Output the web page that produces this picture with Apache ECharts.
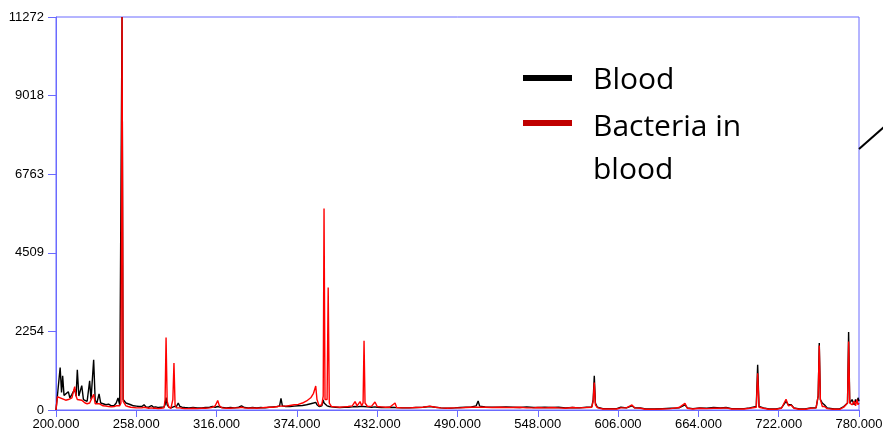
<!DOCTYPE html>
<html>
<head>
<meta charset="utf-8">
<script src="https://cdn.jsdelivr.net/npm/echarts@6/dist/echarts.min.js"></script>
<style>
html,body{margin:0;padding:0;background:#fff;}
#chart{width:883px;height:436px;}
</style>
</head>
<body>
<div id="chart"></div>
<script>
// x positions shared by both spectra (10 per line)
const xs = [
  200,201,202,203,204,204.8,205.8,207,208.9,210,
  211.5,213.5,214.5,215.4,216.5,218.6,219.8,221,222.5,224.3,
  225.3,227.2,228.3,229.5,231.1,232.3,234,236,238,240,
  242,243.5,244.8,246,246.9,247.7,248.5,249.4,250.5,252,
  254,256,258,260,262,263.6,265,267,269,270.5,
  272,274,276,278,278.8,279.5,280.3,281.5,283,284.4,
  285.2,286,287,288.3,289.5,291,293,296,299,302,
  305,308,311,313,315,316.8,318,320,323,326,
  329,332,334,336,339,342,345,348,351,354,
  357,360,361.5,362.5,363.5,366,369,372,375,378,
  381,384,386,387.6,388.5,390,392,393,393.6,394.3,
  395.8,396.6,397.4,399,402,405,408,411,414,416,
  417.5,419.6,420.8,421.8,422.5,423.2,425,428,430.4,432,
  435,438,441,444.9,446,450,455,460,465,470,
  474,478,483,488,492,496,500,503.5,504.9,506,
  510,515,520,525,530,535,540,545,548,553,
  558,563,568,573,578,583,587,588,588.8,589.6,
  591,595,600,605,608,612,616,618,622,626,
  632,638,644,650,654.3,656,660,665,670,675,
  680,684,688,692,697,701,705.8,706.8,707.8,711,
  715,720,724,727.3,729,731,733,737,741,745,
  749,750.5,751.3,752.1,753.5,755,757,762,766,769,
  771.7,772.5,773.3,775,776.5,777.5,778.5,779.3,780];
const bloodY = [
  0,400,420,1217,500,980,420,380,525,350,
  450,600,400,1150,400,700,300,320,250,834,
  300,1438,280,200,460,200,180,150,170,120,
  130,200,345,150,200,11272,300,345,200,180,
  150,120,110,100,100,150,90,80,130,80,
  90,70,80,90,150,354,150,80,60,80,
  100,90,100,200,100,80,70,60,70,60,
  60,70,80,100,80,100,80,70,60,70,
  60,80,120,70,60,70,60,70,60,80,
  90,100,120,335,120,100,100,110,120,130,
  150,180,200,220,150,100,120,290,200,150,
  120,110,100,90,80,70,80,80,90,100,
  90,100,90,100,120,100,90,80,90,80,
  70,70,80,70,60,60,60,70,80,100,
  80,60,50,60,70,80,90,120,260,110,
  90,80,80,90,80,70,90,70,70,80,
  70,80,60,70,60,80,90,300,978,200,
  80,40,40,40,80,60,120,60,60,30,
  30,40,50,60,150,60,40,60,50,70,
  60,70,40,40,40,60,100,1294,100,60,
  30,30,60,250,150,150,60,30,30,60,
  60,400,1918,300,200,150,60,30,30,100,
  200,2234,200,300,150,300,200,350,250];
const bacteriaY = [
  0,380,360,350,330,320,300,280,300,260,
  350,670,400,300,250,280,230,200,180,200,
  170,450,180,150,180,130,120,110,100,90,
  100,120,150,120,200,11272,250,200,120,100,
  80,70,60,60,60,80,60,50,60,50,
  50,40,50,60,300,2080,250,80,50,300,
  1350,150,60,80,60,50,40,40,50,40,
  50,50,60,80,120,270,120,60,50,50,
  60,60,80,60,50,60,50,60,70,80,
  80,100,110,130,110,110,130,150,160,200,
  260,350,480,690,300,120,150,400,5780,300,
  300,3510,200,100,90,80,90,100,120,240,
  120,240,120,200,1985,200,100,110,230,100,
  90,80,80,200,70,60,60,70,80,110,
  80,60,50,60,60,70,80,80,90,80,
  80,70,80,70,70,80,60,60,70,60,
  70,60,50,70,60,70,80,250,790,150,
  70,30,30,30,60,60,144,60,50,20,
  20,30,40,70,192,50,30,50,40,50,
  50,60,30,30,30,50,80,1055,80,50,
  20,20,50,307,120,140,50,20,20,50,
  60,400,1850,300,100,100,40,20,20,80,
  200,1965,200,150,250,120,300,150,200];
const xTickValues = [200,258,316,374,432,490,548,606,664,722,780];
const yTickLabels = ['0','2254','4509','6763','9018','11272'];
const seriesNames = ['Blood','Bacteria in blood'];

const blueAxis = '#6a6aff';
const chart = echarts.init(document.getElementById('chart'), null, {renderer:'canvas'});
const bloodData = xs.map((x,i)=>[x, bloodY[i]]);
const bactData = xs.map((x,i)=>[x, bacteriaY[i]]);

chart.setOption({
  animation:false,
  backgroundColor:'#ffffff',
  grid:{left:56,right:24,top:17,bottom:26,containLabel:false,outerBoundsMode:'none',
    show:true,borderColor:blueAxis,borderWidth:1,backgroundColor:'transparent'},
  xAxis:{
    type:'value',min:xTickValues[0],max:xTickValues[xTickValues.length-1],interval:58,
    axisLine:{show:true,lineStyle:{color:blueAxis,width:1}},
    axisTick:{show:true,length:7,lineStyle:{color:blueAxis}},
    splitLine:{show:false},
    axisLabel:{color:'#000',fontFamily:'Liberation Sans, Arial',fontSize:13,margin:8,
      formatter:v=>Number(v).toFixed(3)}
  },
  yAxis:{
    type:'value',min:0,max:11272,interval:11272/5,
    axisLine:{show:true,lineStyle:{color:blueAxis,width:1}},
    axisTick:{show:true,length:8,lineStyle:{color:blueAxis}},
    splitLine:{show:false},
    axisLabel:{color:'#000',fontFamily:'Liberation Sans, Arial',fontSize:13,margin:12,
      formatter:(v)=>yTickLabels[Math.round(v/(11272/5))] ?? String(Math.round(v))}
  },
  series:[
    {name:seriesNames[0],type:'line',data:bloodData,showSymbol:false,symbol:'none',
      lineStyle:{color:'#000000',width:1.4},itemStyle:{color:'#000'},z:2},
    {name:seriesNames[1],type:'line',data:bactData,showSymbol:false,symbol:'none',
      lineStyle:{color:'#ff0000',width:1.4},itemStyle:{color:'#ff0000'},z:3}
  ],
  graphic:[
    {type:'rect',shape:{x:523,y:75,width:49,height:6},style:{fill:'#000000'}},
    {type:'text',left:593,top:65,style:{text:seriesNames[0],font:'30px "Open Sans"',fill:'#000'}},
    {type:'rect',shape:{x:523,y:120,width:49,height:6},style:{fill:'#c00000'}},
    {type:'text',left:593,top:106,style:{text:'Bacteria in\nblood',font:'30px "Open Sans"',fill:'#000',lineHeight:43}},
    {type:'line',shape:{x1:859,y1:149,x2:884,y2:127},style:{stroke:'#000',lineWidth:2}}
  ]
});
</script>
</body>
</html>
